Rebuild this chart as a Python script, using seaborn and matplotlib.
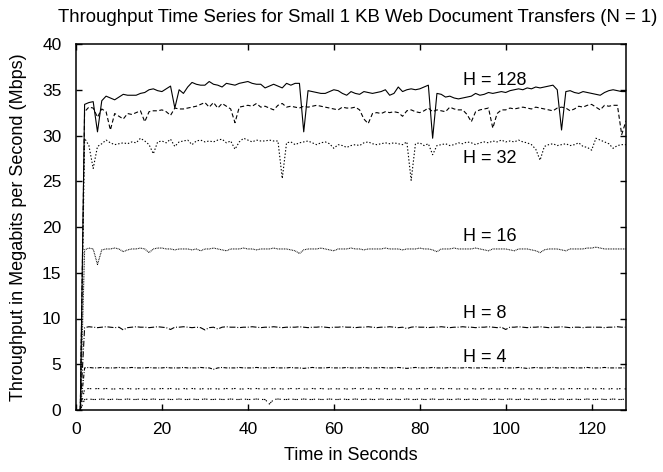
import matplotlib
matplotlib.use("Agg")
import matplotlib.pyplot as plt
import seaborn as sns
import pandas as pd

# ---------------- data ----------------
seconds = list(range(1, 129))

h128 = [0, 33.4, 33.6, 33.7, 30.4, 33.8, 34.3, 34.1, 33.9, 34.2,
        34.5, 34.4, 34.4, 34.4, 34.6, 34.7, 35.0, 35.1, 34.9, 34.8,
        35.1, 35.4, 33.0, 35.0, 34.6, 35.3, 35.8, 35.6, 35.5, 35.5,
        35.9, 35.6, 35.5, 35.3, 35.7, 35.6, 35.5, 35.7, 35.8, 35.9,
        35.7, 35.6, 35.6, 35.2, 35.4, 35.6, 35.4, 35.2, 35.7, 35.5,
        35.7, 35.7, 30.4, 34.9, 34.8, 34.7, 34.6, 34.6, 34.8, 35.0,
        34.9, 34.6, 34.4, 34.8, 34.6, 34.5, 34.8, 34.7, 34.6, 34.7,
        34.8, 35.0, 34.4, 34.6, 35.3, 34.8, 35.0, 35.1, 35.0, 35.1,
        35.3, 35.5, 29.7, 34.6, 34.5, 34.2, 34.3, 34.1, 34.0, 34.1,
        34.2, 34.3, 34.6, 34.4, 34.5, 34.7, 34.6, 34.7, 34.8, 34.7,
        34.9, 35.0, 35.1, 35.0, 35.2, 35.1, 35.3, 35.2, 35.3, 35.4,
        35.5, 35.0, 30.6, 34.8, 34.9, 34.7, 34.6, 34.8, 34.7, 34.6,
        34.5, 34.4, 34.7, 34.9, 35.0, 34.9, 34.8, 34.8]

h64 = [0, 32.6, 33.1, 33.0, 32.0, 32.9, 32.6, 30.6, 32.4, 32.1,
       31.8, 32.4, 32.3, 32.5, 32.7, 31.5, 32.6, 32.7, 32.7, 32.8,
       32.6, 32.2, 33.0, 32.9, 32.9, 33.0, 33.1, 33.2, 33.4, 33.6,
       33.1, 33.6, 33.0, 33.5, 33.2, 32.9, 31.4, 33.1, 33.2, 33.3,
       33.2, 33.5, 33.1, 33.2, 33.0, 32.8, 33.3, 33.5, 33.1, 33.2,
       33.1, 33.0, 33.2, 33.1, 33.2, 33.3, 33.2, 33.1, 33.0, 32.9,
       32.8, 33.1, 33.0, 33.0, 33.1, 32.8, 31.8, 31.3, 32.4, 32.5,
       32.4, 32.6, 32.5, 32.6, 32.5, 32.1, 32.7, 32.8, 32.6, 32.5,
       32.7, 33.0, 32.6, 32.8, 32.7, 32.6, 33.1, 32.9, 32.8, 32.8,
       32.3, 31.5, 32.6, 32.8, 32.9, 33.0, 30.8, 32.4, 32.8, 32.8,
       33.0, 32.9, 33.0, 33.1, 33.0, 32.9, 33.1, 33.0, 32.9, 32.8,
       32.7, 33.0, 33.1, 33.0, 32.7, 32.9, 33.2, 33.1, 33.3, 33.4,
       33.1, 32.8, 33.3, 33.2, 33.3, 33.3, 30.1, 31.6]

h32 = [0, 29.7, 28.9, 26.4, 28.8, 29.1, 29.5, 29.2, 29.0, 29.1,
       29.2, 29.1, 29.3, 29.2, 29.7, 29.4, 29.0, 28.0, 29.3, 29.4,
       29.2, 29.6, 28.8, 29.3, 29.4, 29.5, 29.0, 29.4, 29.5, 29.3,
       29.4, 29.3, 29.5, 29.6, 29.2, 29.4, 28.5, 29.3, 29.7, 29.5,
       29.3, 29.5, 29.4, 29.4, 29.5, 29.4, 29.4, 25.3, 29.2, 29.3,
       29.0, 29.2, 29.3, 29.4, 29.2, 29.0, 29.2, 29.3, 29.1, 28.6,
       29.0, 28.9, 28.7, 28.9, 29.0, 28.9, 29.2, 29.3, 29.1, 29.0,
       29.1, 29.2, 29.1, 29.2, 29.1, 29.0, 29.3, 25.1, 29.1, 29.2,
       28.9, 29.1, 27.9, 28.9, 29.0, 29.1, 28.9, 29.0, 29.2, 29.1,
       29.3, 29.2, 29.0, 29.2, 29.3, 29.2, 29.4, 29.3, 29.5, 29.3,
       29.4, 29.3, 29.5, 29.3, 29.2, 29.0, 28.5, 27.3, 28.8, 29.0,
       29.1, 28.9, 29.0, 29.1, 28.9, 29.0, 29.2, 28.8, 28.7, 28.4,
       29.7, 29.5, 29.3, 29.1, 28.6, 28.9, 29.0, 29.0]

h16 = [0, 17.5, 17.7, 17.6, 15.9, 17.5, 17.6, 17.6, 17.7, 17.6,
       17.3, 17.5, 17.6, 17.6, 17.7, 17.6, 17.2, 17.6, 17.7, 17.7,
       17.6, 17.6, 17.5, 17.6, 17.6, 17.6, 17.5, 17.6, 17.4, 17.6,
       17.6, 17.7, 17.6, 17.5, 17.4, 17.6, 17.6, 17.6, 17.7, 17.6,
       17.6, 17.5, 17.6, 17.6, 17.6, 17.7, 17.6, 17.6, 17.6, 17.5,
       17.4, 17.1, 17.5, 17.6, 17.6, 17.6, 17.7, 17.6, 17.5, 17.4,
       17.6, 17.6, 17.6, 17.7, 17.6, 17.6, 17.5, 17.6, 17.6, 17.6,
       17.6, 17.7, 17.6, 17.6, 17.6, 17.5, 17.6, 17.6, 17.6, 17.7,
       17.6, 17.6, 17.5, 17.3, 17.6, 17.6, 17.6, 17.7, 17.6, 17.6,
       17.6, 17.6, 17.7, 17.6, 17.5, 17.4, 17.6, 17.6, 17.6, 17.6,
       17.5, 17.4, 17.6, 17.6, 17.6, 17.5, 17.4, 17.2, 17.5, 17.6,
       17.6, 17.6, 17.5, 17.4, 17.6, 17.6, 17.6, 17.6, 17.7, 17.7,
       17.8, 17.7, 17.6, 17.6, 17.6, 17.6, 17.6, 17.6]

h8 = [0, 9.0, 9.1, 9.05, 9.0, 9.05, 9.1, 9.05, 9.0, 9.05,
      8.75, 9.0, 9.05, 9.1, 9.05, 9.05, 9.0, 9.05, 9.1, 9.05,
      9.0, 8.8, 9.05, 9.05, 9.1, 9.05, 9.0, 9.05, 9.0, 8.75,
      9.0, 9.05, 8.85, 9.05, 9.1, 9.05, 9.05, 9.0, 9.05, 9.05,
      9.1, 9.05, 9.0, 9.05, 9.05, 9.1, 9.05, 9.0, 9.05, 9.05,
      9.05, 9.1, 9.05, 9.0, 9.05, 9.05, 9.1, 9.05, 9.0, 9.05,
      9.05, 9.1, 9.05, 9.05, 9.0, 9.05, 9.05, 9.1, 9.05, 9.0,
      9.05, 9.05, 9.1, 9.05, 9.0, 9.05, 8.9, 9.05, 9.1, 9.05,
      9.05, 9.0, 9.05, 9.05, 9.1, 9.05, 9.0, 9.05, 9.05, 9.1,
      9.05, 9.05, 9.0, 9.05, 9.05, 9.1, 9.05, 9.0, 9.05, 8.8,
      9.05, 9.05, 9.1, 9.05, 9.0, 9.05, 9.05, 9.1, 9.05, 9.0,
      9.05, 9.05, 9.1, 9.05, 9.0, 9.05, 9.05, 9.0, 9.05, 9.05,
      9.05, 9.05, 9.0, 9.05, 9.05, 9.1, 9.05, 9.05]

h4 = [0, 4.6, 4.65, 4.6, 4.6, 4.65, 4.6, 4.6, 4.6, 4.65,
      4.6, 4.6, 4.65, 4.6, 4.6, 4.6, 4.65, 4.6, 4.6, 4.6,
      4.65, 4.6, 4.6, 4.6, 4.65, 4.6, 4.6, 4.6, 4.65, 4.6,
      4.6, 4.45, 4.6, 4.65, 4.6, 4.6, 4.6, 4.65, 4.6, 4.6,
      4.6, 4.65, 4.6, 4.6, 4.6, 4.65, 4.6, 4.6, 4.6, 4.65,
      4.6, 4.6, 4.55, 4.6, 4.65, 4.6, 4.6, 4.6, 4.65, 4.6,
      4.6, 4.6, 4.65, 4.6, 4.6, 4.6, 4.65, 4.6, 4.6, 4.6,
      4.65, 4.6, 4.6, 4.6, 4.65, 4.6, 4.55, 4.6, 4.65, 4.6,
      4.6, 4.6, 4.65, 4.6, 4.6, 4.6, 4.65, 4.6, 4.6, 4.6,
      4.65, 4.6, 4.6, 4.6, 4.65, 4.6, 4.6, 4.6, 4.65, 4.6,
      4.6, 4.6, 4.65, 4.6, 4.55, 4.6, 4.65, 4.6, 4.6, 4.6,
      4.65, 4.6, 4.6, 4.6, 4.65, 4.6, 4.6, 4.6, 4.65, 4.6,
      4.6, 4.6, 4.65, 4.6, 4.6, 4.6, 4.6, 4.6]

h2 = [0, 2.3, 2.35, 2.3, 2.35, 2.3, 2.35, 2.3, 2.3, 2.35,
      2.3, 2.35, 2.3, 2.3, 2.35, 2.3, 2.35, 2.3, 2.3, 2.35,
      2.3, 2.35, 2.3, 2.3, 2.35, 2.3, 2.35, 2.3, 2.3, 2.35,
      2.3, 2.35, 2.3, 2.3, 2.35, 2.3, 2.35, 2.3, 2.3, 2.35,
      2.3, 2.35, 2.3, 2.3, 2.35, 2.3, 2.35, 2.3, 2.3, 2.35,
      2.3, 2.35, 2.3, 2.3, 2.35, 2.3, 2.35, 2.3, 2.3, 2.35,
      2.3, 2.35, 2.3, 2.3, 2.35, 2.3, 2.35, 2.3, 2.3, 2.35,
      2.3, 2.35, 2.3, 2.3, 2.35, 2.3, 2.35, 2.3, 2.3, 2.35,
      2.3, 2.35, 2.3, 2.3, 2.35, 2.3, 2.35, 2.3, 2.3, 2.35,
      2.3, 2.35, 2.3, 2.3, 2.35, 2.3, 2.35, 2.3, 2.3, 2.35,
      2.3, 2.35, 2.3, 2.3, 2.35, 2.3, 2.35, 2.3, 2.3, 2.35,
      2.3, 2.35, 2.3, 2.3, 2.35, 2.3, 2.35, 2.3, 2.3, 2.35,
      2.3, 2.35, 2.3, 2.3, 2.35, 2.3, 2.35, 2.3]

h1 = [0, 1.15, 1.2, 1.15, 1.15, 1.2, 1.15, 1.15, 1.2, 1.15,
      1.15, 1.2, 1.15, 1.15, 1.2, 1.15, 1.15, 1.2, 1.15, 1.15,
      1.2, 1.15, 1.15, 1.2, 1.15, 1.15, 1.2, 1.15, 1.15, 1.2,
      1.15, 1.15, 1.2, 1.15, 1.15, 1.2, 1.15, 1.15, 1.2, 1.15,
      1.15, 1.2, 1.15, 1.15, 0.65, 1.15, 1.2, 1.15, 1.15, 1.2,
      1.15, 1.15, 1.2, 1.15, 1.15, 1.2, 1.15, 1.15, 1.2, 1.15,
      1.15, 1.2, 1.15, 1.15, 1.2, 1.15, 1.15, 1.2, 1.15, 1.15,
      1.2, 1.15, 1.15, 1.2, 1.15, 1.15, 1.2, 1.15, 1.15, 1.2,
      1.15, 1.15, 1.2, 1.15, 1.15, 1.2, 1.15, 1.15, 1.2, 1.15,
      1.15, 1.2, 1.15, 1.15, 1.2, 1.15, 1.15, 1.2, 1.15, 1.15,
      1.2, 1.15, 1.15, 1.2, 1.15, 1.15, 1.2, 1.15, 1.15, 1.2,
      1.15, 1.15, 1.2, 1.15, 1.15, 1.2, 1.15, 1.15, 1.2, 1.15,
      1.15, 1.2, 1.15, 1.15, 1.2, 1.15, 1.15, 1.2]

series_names = ["H = 128", "H = 64", "H = 32", "H = 16", "H = 8", "H = 4", "H = 2", "H = 1"]
series_values = [h128, h64, h32, h16, h8, h4, h2, h1]

labels_text = ["H = 128", "H = 32", "H = 16", "H = 8", "H = 4"]
labels_y = [36.0, 27.45, 19.0, 10.57, 5.74]
label_x = 90

# ---------------- style ----------------
sns.set_style("ticks")
plt.rcParams['font.family'] = ['Liberation Sans', 'DejaVu Sans']
plt.rcParams['lines.scale_dashes'] = False
plt.rcParams['text.color'] = 'black'
plt.rcParams['axes.labelcolor'] = 'black'
plt.rcParams['xtick.color'] = 'black'
plt.rcParams['ytick.color'] = 'black'
FS = 13
TITLE_FS = 13.4
TFS = 12.5

dash_styles = {
    "H = 128": "-",
    "H = 64": (0, (3.0, 1.8)),
    "H = 32": (0, (1.0, 1.4)),
    "H = 16": (0, (0.6, 0.6)),
    "H = 8": (0, (4.3, 1.3, 0.7, 1.3)),
    "H = 4": (0, (2.8, 1.1, 0.7, 1.1)),
    "H = 2": (0, (1.1, 0.7, 1.1, 2.9)),
    "H = 1": (0, (1.0, 0.5, 1.0, 0.5, 1.0, 2.2)),
}

fig = plt.figure(figsize=(6.63, 4.72), dpi=100)
ax = fig.add_axes([76 / 663, 1 - 410 / 472, 550 / 663, 366 / 472])

rows = []
for name, vals in zip(series_names, series_values):
    for s, v in zip(seconds, vals):
        rows.append((name, s, v))
df = pd.DataFrame(rows, columns=["H", "seconds", "mbps"])

for name in series_names:
    sub = df[df["H"] == name]
    sns.lineplot(data=sub, x="seconds", y="mbps", ax=ax, color="black",
                 linewidth=0.8, linestyle=dash_styles[name], estimator=None,
                 sort=False, legend=False)

for txt, y in zip(labels_text, labels_y):
    ax.text(label_x, y, txt, fontsize=FS, ha="left", va="center", color="black")

ax.set_xlim(0, 128)
ax.set_ylim(0, 40)
ax.set_xticks([0, 20, 40, 60, 80, 100, 120])
ax.set_yticks([0, 5, 10, 15, 20, 25, 30, 35, 40])
ax.tick_params(direction="in", top=True, right=True, length=4.5, width=1.0,
               labelsize=TFS, colors="black", labelcolor="black")
ax.tick_params(axis="y", pad=10.5)
ax.tick_params(axis="x", pad=9)
for sp in ax.spines.values():
    sp.set_visible(True)
    sp.set_linewidth(1.1)
    sp.set_color("black")

ax.set_xlabel("Time in Seconds", fontsize=FS, va="center", color="black")
ax.set_ylabel("Throughput in Megabits per Second (Mbps)", fontsize=FS, va="center",
              color="black")
ax.xaxis.set_label_coords(0.5, -0.123)
ax.yaxis.set_label_coords(-0.105, 0.5)
ax.set_title("Throughput Time Series for Small 1 KB Web Document Transfers (N = 1)",
             fontsize=TITLE_FS, pad=16, x=0.513, color="black")

fig.savefig("out.png", dpi=100)
